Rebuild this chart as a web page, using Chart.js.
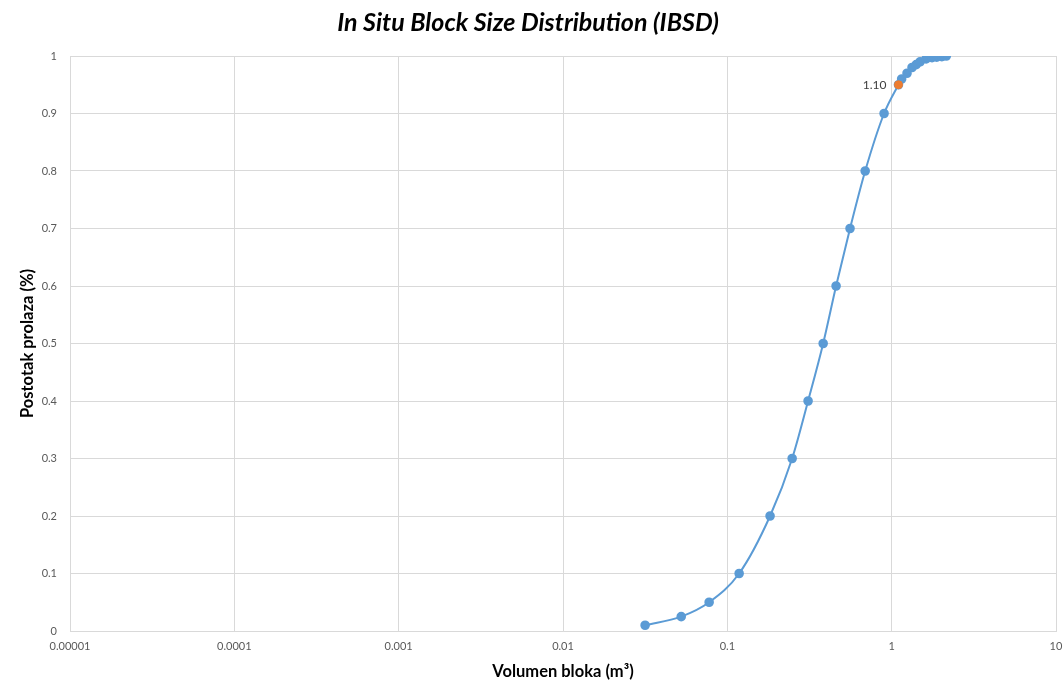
<!DOCTYPE html>
<html>
<head>
<meta charset="utf-8">
<script src="https://cdn.jsdelivr.net/npm/chart.js@4.4.1/dist/chart.umd.min.js"></script>
<style>
  html, body { margin: 0; padding: 0; background: #ffffff; }
  #wrap { width: 1064px; height: 682px; }
</style>
</head>
<body>
<div id="wrap"><canvas id="c" width="1064" height="682"></canvas></div>
<script>
// Block volume (m³) and cumulative passing fraction
const blockVolume = [0.0316, 0.0524, 0.0775, 0.118, 0.182, 0.248, 0.310, 0.383, 0.459, 0.558, 0.690, 0.899,
                     1.10, 1.15, 1.24, 1.33, 1.41, 1.49, 1.62, 1.76, 1.88, 2.02, 2.15];
const passing = [0.01, 0.025, 0.05, 0.1, 0.2, 0.3, 0.4, 0.5, 0.6, 0.7, 0.8, 0.9,
                 0.95, 0.96, 0.97, 0.98, 0.985, 0.99, 0.995, 0.997, 0.998, 0.999, 1.0];

// Highlighted point with its label
const markVolume = [1.10];
const markPassing = [0.95];
const markLabel = ['1.10'];

const xTickValues = [0.00001, 0.0001, 0.001, 0.01, 0.1, 1, 10];
const xTickLabels = ['0.00001', '0.0001', '0.001', '0.01', '0.1', '1', '10'];
const yTickValues = [0, 0.1, 0.2, 0.3, 0.4, 0.5, 0.6, 0.7, 0.8, 0.9, 1];
const yTickLabels = ['0', '0.1', '0.2', '0.3', '0.4', '0.5', '0.6', '0.7', '0.8', '0.9', '1'];

const curve = blockVolume.map((v, i) => ({ x: v, y: passing[i] }));
const marks = markVolume.map((v, i) => ({ x: v, y: markPassing[i] }));

const pointLabels = {
  id: 'pointLabels',
  afterDatasetsDraw(chart) {
    const meta = chart.getDatasetMeta(0);
    const ctx = chart.ctx;
    ctx.save();
    ctx.font = '12px Lato, "DejaVu Sans", sans-serif';
    ctx.fillStyle = '#404040';
    ctx.textAlign = 'right';
    ctx.textBaseline = 'middle';
    meta.data.forEach((el, i) => {
      ctx.fillText(markLabel[i], el.x - 12, el.y);
    });
    ctx.restore();
  }
};

new Chart(document.getElementById('c'), {
  type: 'scatter',
  data: {
    datasets: [
      {
        data: marks,
        showLine: false,
        pointRadius: 4,
        pointHoverRadius: 4,
        pointBackgroundColor: '#ed7d31',
        pointBorderColor: '#ed7d31',
        order: 0
      },
      {
        data: curve,
        showLine: true,
        borderColor: '#5b9bd5',
        borderWidth: 2,
        cubicInterpolationMode: 'monotone',
        pointRadius: 3.8,
        pointHoverRadius: 3.8,
        pointBackgroundColor: '#5b9bd5',
        pointBorderColor: '#5b9bd5',
        order: 1
      }
    ]
  },
  options: {
    responsive: false,
    animation: false,
    layout: { padding: { left: 0, right: 8, top: 0, bottom: 0 } },
    plugins: {
      legend: { display: false },
      tooltip: { enabled: false },
      title: {
        display: true,
        text: 'In Situ Block Size Distribution (IBSD)',
        color: '#000000',
        font: { family: 'Lato, sans-serif', size: 25, weight: 'bold', style: 'italic', lineHeight: 1.2 },
        padding: { top: 8, bottom: 18 }
      }
    },
    scales: {
      x: {
        type: 'logarithmic',
        min: 0.00001,
        max: 10,
        afterBuildTicks(scale) {
          scale.ticks = xTickValues.map(v => ({ value: v }));
        },
        afterFit(scale) {
          scale.height = 51;
          scale.paddingLeft = 0;
          scale.paddingRight = 0;
        },
        ticks: {
          callback(value) {
            const i = xTickValues.findIndex(t => Math.abs(t - value) / t < 1e-6);
            return i >= 0 ? xTickLabels[i] : '';
          },
          color: '#595959',
          font: { family: 'Lato, sans-serif', size: 11 },
          padding: 9,
          maxRotation: 0,
          autoSkip: false
        },
        grid: { color: '#d9d9d9', lineWidth: 1, drawTicks: false },
        border: { color: '#d9d9d9' },
        title: {
          display: true,
          text: 'Volumen bloka (m³)',
          color: '#000000',
          font: { family: 'Lato, sans-serif', size: 16.5, weight: 'bold', lineHeight: 1.2 },
          padding: { top: 0, bottom: 0 }
        }
      },
      y: {
        type: 'linear',
        min: 0,
        max: 1,
        afterBuildTicks(scale) {
          scale.ticks = yTickValues.map(v => ({ value: v }));
        },
        afterFit(scale) {
          scale.width = 70;
          scale.paddingTop = 0;
          scale.paddingBottom = 0;
        },
        ticks: {
          callback(value) {
            const i = yTickValues.findIndex(t => Math.abs(t - value) < 1e-9);
            return i >= 0 ? yTickLabels[i] : '';
          },
          color: '#595959',
          font: { family: 'Lato, sans-serif', size: 11 },
          padding: 13
        },
        grid: { color: '#d9d9d9', lineWidth: 1, drawTicks: false },
        border: { color: '#d9d9d9' },
        title: {
          display: true,
          text: 'Postotak prolaza (%)',
          color: '#000000',
          font: { family: 'Lato, sans-serif', size: 16.5, weight: 'bold', lineHeight: 1.2 },
          padding: { top: 18, bottom: 0 }
        }
      }
    }
  },
  plugins: [pointLabels]
});
</script>
</body>
</html>
